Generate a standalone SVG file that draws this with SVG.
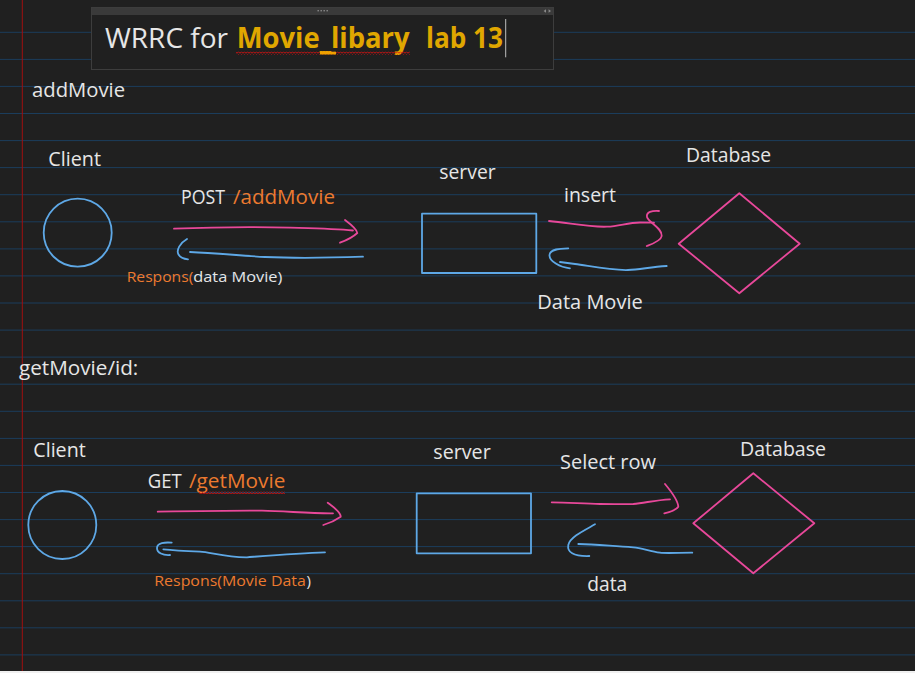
<svg xmlns="http://www.w3.org/2000/svg" width="915" height="673" viewBox="0 0 915 673">
<style>
  .bg{fill:#202020}
  .rule{stroke:#1b3d5c;stroke-width:1}
  .lbl{font-family:"Open Sans","Noto Sans",sans-serif;font-size:20px;fill:#e6e6e6}
  .sm{font-size:15px}
  .or{fill:#ec7a2f}
  .wh{fill:#e6e6e6}
  .gold{fill:#e0a700;font-weight:bold}
  .blue{fill:none;stroke:#5ea8e6;stroke-width:1.8;stroke-linecap:round;stroke-linejoin:round}
  .pink{fill:none;stroke:#e8489a;stroke-width:1.8;stroke-linecap:round;stroke-linejoin:round}
</style>
<defs>
  <pattern id="sq" width="3" height="3" patternUnits="userSpaceOnUse">
    <path d="M0 2.5 L1.5 0.5 L3 2.5" fill="none" stroke="#e01010" stroke-width="0.9"/>
  </pattern>
</defs>
<rect class="bg" x="0" y="0" width="915" height="673"/>
<g id="rules">
  <line class="rule" x1="0" y1="32.3" x2="915" y2="32.3"/>
  <line class="rule" x1="0" y1="59.4" x2="915" y2="59.4"/>
  <line class="rule" x1="0" y1="86.4" x2="915" y2="86.4"/>
  <line class="rule" x1="0" y1="113.5" x2="915" y2="113.5"/>
  <line class="rule" x1="0" y1="140.6" x2="915" y2="140.6"/>
  <line class="rule" x1="0" y1="167.6" x2="915" y2="167.6"/>
  <line class="rule" x1="0" y1="194.7" x2="915" y2="194.7"/>
  <line class="rule" x1="0" y1="221.8" x2="915" y2="221.8"/>
  <line class="rule" x1="0" y1="248.9" x2="915" y2="248.9"/>
  <line class="rule" x1="0" y1="275.9" x2="915" y2="275.9"/>
  <line class="rule" x1="0" y1="303" x2="915" y2="303"/>
  <line class="rule" x1="0" y1="330.1" x2="915" y2="330.1"/>
  <line class="rule" x1="0" y1="357.1" x2="915" y2="357.1"/>
  <line class="rule" x1="0" y1="384.2" x2="915" y2="384.2"/>
  <line class="rule" x1="0" y1="411.3" x2="915" y2="411.3"/>
  <line class="rule" x1="0" y1="438.4" x2="915" y2="438.4"/>
  <line class="rule" x1="0" y1="465.4" x2="915" y2="465.4"/>
  <line class="rule" x1="0" y1="492.5" x2="915" y2="492.5"/>
  <line class="rule" x1="0" y1="519.6" x2="915" y2="519.6"/>
  <line class="rule" x1="0" y1="546.6" x2="915" y2="546.6"/>
  <line class="rule" x1="0" y1="573.7" x2="915" y2="573.7"/>
  <line class="rule" x1="0" y1="600.8" x2="915" y2="600.8"/>
  <line class="rule" x1="0" y1="627.8" x2="915" y2="627.8"/>
  <line class="rule" x1="0" y1="654.9" x2="915" y2="654.9"/>
  <line x1="22.3" y1="0" x2="22.3" y2="671" stroke="#a01010" stroke-width="1"/>
</g>
<rect x="0" y="671" width="915" height="2" fill="#f0f0f0"/>

<g id="title">
  <rect x="91.5" y="7.5" width="462" height="62" fill="#202020" stroke="#3d3d3d" stroke-width="1"/>
  <rect x="92" y="8" width="461" height="7" fill="#3a3a3a"/>
  <rect x="317.5" y="10" width="1.4" height="1.4" fill="#8a8a8a"/>
  <rect x="320.5" y="10" width="1.4" height="1.4" fill="#8a8a8a"/>
  <rect x="323.5" y="10" width="1.4" height="1.4" fill="#8a8a8a"/>
  <rect x="326.5" y="10" width="1.4" height="1.4" fill="#8a8a8a"/>
  <path d="M546 9.2 L543.6 11 L546 12.8 Z M548.6 9.2 L551 11 L548.6 12.8 Z" fill="#8a8a8a"/>
  <text class="lbl" x="105" y="48" font-size="28" textLength="123" lengthAdjust="spacingAndGlyphs" style="font-size:28px">WRRC for</text>
  <text class="lbl gold" x="236.7" y="48" textLength="173" lengthAdjust="spacingAndGlyphs" style="font-size:28px">Movie_libary</text>
  <text class="lbl gold" x="426" y="48" textLength="77" lengthAdjust="spacingAndGlyphs" style="font-size:28px">lab 13</text>
  <rect x="236" y="51.7" width="174" height="3" fill="url(#sq)"/>
  <rect x="320" y="51.7" width="16" height="2.8" fill="#f0a000"/>
  <line x1="505.7" y1="19" x2="505.7" y2="57.3" stroke="#bdbdbd" stroke-width="1"/>
</g>

<g id="section-addMovie">
  <text class="lbl" x="32" y="96.7" textLength="93" lengthAdjust="spacingAndGlyphs">addMovie</text>
</g>

<g id="client1">
  <text class="lbl" x="48.3" y="165.7" textLength="52.7" lengthAdjust="spacingAndGlyphs">Client</text>
  <circle class="blue" cx="77.7" cy="232.7" r="34"/>
</g>
<g id="server1">
  <text class="lbl" x="439.3" y="179" textLength="56.4" lengthAdjust="spacingAndGlyphs">server</text>
  <rect class="blue" x="422" y="213.7" width="114.3" height="59.3"/>
</g>
<g id="db1">
  <text class="lbl" x="686" y="161.7" textLength="85" lengthAdjust="spacingAndGlyphs">Database</text>
  <path class="pink" d="M739.3 193.3 L799.7 243.7 L739.3 293.3 L678.7 243.7 Z"/>
</g>

<g id="section-getMovie">
  <text class="lbl" x="19" y="375" textLength="119.3" lengthAdjust="spacingAndGlyphs">getMovie/id:</text>
</g>

<g id="client2">
  <text class="lbl" x="33.3" y="457.3" textLength="52.4" lengthAdjust="spacingAndGlyphs">Client</text>
  <circle class="blue" cx="62.3" cy="525" r="34"/>
</g>
<g id="server2">
  <text class="lbl" x="433.3" y="459.3" textLength="57.4" lengthAdjust="spacingAndGlyphs">server</text>
  <rect class="blue" x="416.7" y="493.3" width="114.3" height="60"/>
</g>
<g id="db2">
  <text class="lbl" x="740" y="455.7" textLength="86" lengthAdjust="spacingAndGlyphs">Database</text>
  <path class="pink" d="M753.3 473.3 L814.3 523.3 L753.3 573.3 L693.3 523.3 Z"/>
</g>

<g id="connectors">
  <!-- POST /addMovie -->
  <path class="pink" d="M174 228.7 C210 227.2 250 226.6 290 227.6 S335 228.6 353 230.5"/>
  <path class="pink" d="M345 220 C349 223 357 229 357.3 233 C353 237 346 240.5 340 242.7"/>
  <text class="lbl" x="181" y="204.3"><tspan textLength="44" lengthAdjust="spacingAndGlyphs">POST</tspan><tspan class="or" x="233" textLength="102" lengthAdjust="spacingAndGlyphs">/addMovie</tspan></text>
  <!-- Respons -->
  <path class="blue" d="M363 256.7 C340 257.5 300 258.6 265 257 C240 255.6 215 253 190 252"/>
  <path class="blue" d="M187 239 C180 243 176 250 178.5 254.5 C180.5 258 185 259 188 259.3"/>
  <text class="lbl sm" x="126.7" y="281.7" style="font-size:15px"><tspan class="or" textLength="66.6" lengthAdjust="spacingAndGlyphs">Respons(</tspan><tspan x="193.3" class="wh" textLength="89" lengthAdjust="spacingAndGlyphs">data Movie)</tspan></text>
  <!-- insert -->
  <path class="pink" d="M549 221 C570 223 590 227.5 607 226.7 C620 226 628 222.5 640 222.5 L654 222.7"/>
  <path class="pink" d="M659 211 C652 210.5 646 212 647 217 C648 222 662.5 228 661.7 236 C661 241 652 244 646.7 246"/>
  <text class="lbl" x="564" y="202.3" textLength="52" lengthAdjust="spacingAndGlyphs">insert</text>
  <!-- Data Movie -->
  <path class="blue" d="M666.7 266 C650 267 640 269.6 628 270 C610 270.5 590 266 575 264 L560 262"/>
  <path class="blue" d="M568.3 248.3 C560 248.5 550 249 549.5 255 C549 261 560 267.5 570 268.3"/>
  <text class="lbl" x="537.3" y="309" textLength="105.4" lengthAdjust="spacingAndGlyphs">Data Movie</text>

  <!-- GET /getMovie -->
  <path class="pink" d="M157.7 511.7 C200 511 240 510.4 262 510.7 C285 511 310 513.6 333 513.3"/>
  <path class="pink" d="M327.7 502.7 C332 506 341 512 340.7 516.7 C336 520 330 523 323.3 525"/>
  <text class="lbl" x="147.7" y="488.3"><tspan textLength="34" lengthAdjust="spacingAndGlyphs">GET</tspan><tspan class="or" x="189" textLength="96.3" lengthAdjust="spacingAndGlyphs">/getMovie</tspan></text>
  <rect x="199" y="491" width="86" height="3" fill="url(#sq)"/>
  <!-- Respons(Movie Data) -->
  <path class="blue" d="M325 552.3 C300 553 270 555.5 247 557.3 C225 557.5 210 552 200 551.7 C185 551 170 550 163.3 549.3"/>
  <path class="blue" d="M171.7 542.7 C165 542 157 543 157 548 C157 553 163 555.5 170 555"/>
  <text class="lbl sm" x="154.3" y="586" style="font-size:15px"><tspan class="or" textLength="151.5" lengthAdjust="spacingAndGlyphs">Respons(Movie Data</tspan><tspan class="wh" x="306.5">)</tspan></text>
  <!-- Select row -->
  <path class="pink" d="M551.7 502.3 C570 502.5 585 504 600 504 C615 504 625 504.5 633.3 504 C645 503 655 500 670 499.3"/>
  <path class="pink" d="M665 484 C670 490 678 500 678.3 506.7 C676 510 670 512 664.3 513.3"/>
  <text class="lbl" x="560" y="469.3" textLength="96" lengthAdjust="spacingAndGlyphs">Select row</text>
  <!-- data -->
  <path class="blue" d="M692.3 552.7 C680 552.7 665 553.5 660 552.7 C650 551.5 642 548 633.3 547.3 C610 546 595 544 578.3 544"/>
  <path class="blue" d="M595 524.3 C585 530 570 537 568.3 545 C567 552 573 556.5 589.3 556"/>
  <text class="lbl" x="587.3" y="590.7" textLength="40" lengthAdjust="spacingAndGlyphs">data</text>
</g>
</svg>
